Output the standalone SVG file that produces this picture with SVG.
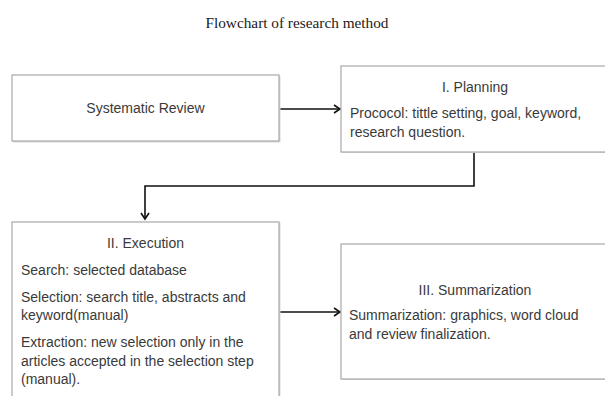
<svg xmlns="http://www.w3.org/2000/svg" width="605" height="396" viewBox="0 0 605 396">
<style>
.box{fill:#ffffff;stroke:#a8a8a8;stroke-width:1.2}
.shadow{fill:#d9d9d9;stroke:none}
.t{font-family:"Liberation Sans",Arial,sans-serif;font-size:14px;fill:#3a3a3a}
.c{text-anchor:middle}
.title{font-family:"Liberation Serif","Times New Roman",serif;font-size:15.3px;fill:#1a1a1a;text-anchor:middle}
.conn{fill:none;stroke:#111111;stroke-width:1.6}
</style>
<defs>
<marker id="arr" markerUnits="userSpaceOnUse" markerWidth="12" markerHeight="12" refX="8" refY="5" orient="auto">
<path d="M2,1 L8,5 L2,9" fill="none" stroke="#111111" stroke-width="1.6"/>
</marker>
</defs>
<rect width="605" height="396" fill="#ffffff"/>
<text class="title" x="297" y="28">Flowchart of research method</text>
<g id="connectors">
<line class="conn" x1="280" y1="109" x2="340" y2="109" marker-end="url(#arr)"/>
<polyline class="conn" points="474,152 474,186 145,186 145,219" marker-end="url(#arr)"/>
<line class="conn" x1="280" y1="312" x2="340" y2="312" marker-end="url(#arr)"/>
</g>
<g id="systematic-review">
<rect class="shadow" x="13" y="76" width="267.5" height="66.5"/>
<rect class="box" x="12" y="75" width="267" height="66"/>
<text class="t c" x="145.5" y="113">Systematic Review</text>
</g>
<g id="planning">
<rect class="shadow" x="342" y="67" width="270" height="86"/>
<rect class="box" x="341" y="66" width="270" height="86"/>
<text class="t c" x="475" y="92">I. Planning</text>
<text class="t" x="350" y="118">Prococol: tittle setting, goal, keyword,</text>
<text class="t" x="350" y="137">research question.</text>
</g>
<g id="execution">
<rect class="shadow" x="13" y="223" width="267.5" height="180"/>
<rect class="box" x="12" y="222" width="267" height="180"/>
<text class="t c" x="145.5" y="248">II. Execution</text>
<text class="t" x="21" y="275">Search: selected database</text>
<text class="t" x="21" y="302">Selection: search title, abstracts and</text>
<text class="t" x="21" y="320">keyword(manual)</text>
<text class="t" x="21" y="347">Extraction: new selection only in the</text>
<text class="t" x="21" y="366">articles accepted in the selection step</text>
<text class="t" x="21" y="384">(manual).</text>
</g>
<g id="summarization">
<rect class="shadow" x="342" y="245" width="270" height="135"/>
<rect class="box" x="341" y="244" width="270" height="135"/>
<text class="t c" x="475" y="295">III. Summarization</text>
<text class="t" x="349" y="320">Summarization: graphics, word cloud</text>
<text class="t" x="349" y="339">and review finalization.</text>
</g>
</svg>
